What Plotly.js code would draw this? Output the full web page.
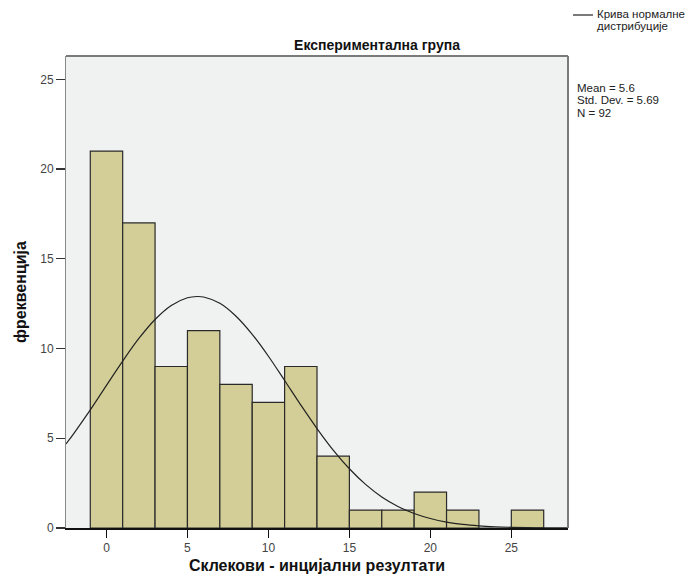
<!DOCTYPE html>
<html>
<head>
<meta charset="utf-8">
<script src="https://cdn.plot.ly/plotly-3.0.1.min.js"></script>
<style>html,body{margin:0;padding:0;background:#fff;}#chart{width:699px;height:585px;}</style>
</head>
<body>
<div id="chart"></div>
<script>
// Histogram bins (bin width 2, centres) and frequencies
const binCenters = [0, 2, 4, 6, 8, 10, 12, 14, 16, 18, 20, 22, 24, 26];
const frequencies = [21, 17, 9, 11, 8, 7, 9, 4, 1, 1, 2, 1, 0, 1];
// Normal curve
const curveX = [-2.5, -2, -1, 0, 1, 2, 3, 4, 5, 5.6, 6, 7, 8, 9, 10, 11, 12, 13, 14, 15, 16, 17, 18, 19, 20, 21, 22, 23, 24, 25, 26, 27, 28, 28.5];
const curveY = [4.68, 5.29, 6.58, 7.95, 9.30, 10.56, 11.62, 12.40, 12.83, 12.9, 12.87, 12.52, 11.80, 10.79, 9.57, 8.22, 6.85, 5.54, 4.34, 3.30, 2.43, 1.73, 1.20, 0.81, 0.53, 0.33, 0.20, 0.12, 0.07, 0.04, 0.02, 0.01, 0.005, 0.004];
const xTicks = [0, 5, 10, 15, 20, 25];
const yTicks = [0, 5, 10, 15, 20, 25];
const chartTitle = "Експериментална група";
const xTitle = "Склекови - инцијални резултати";
const yTitle = "фреквенција";
const legendLabel = ["Крива нормалне", "дистрибуције"];
const statsLines = ["Mean = 5.6", "Std. Dev. = 5.69", "N = 92"];

const W = 699, H = 585;
const M = {l: 66, r: 131, t: 56, b: 57};
const pw = W - M.l - M.r, ph = H - M.t - M.b;
const px = (x) => (x - M.l) / pw;      // pixel -> paper x
const py = (y) => 1 - (y - M.t) / ph;  // pixel -> paper y

const font = "Arial, 'Liberation Sans', sans-serif";
// line spacing = 1.3 * base size (9.6 -> ~12.5px), glyphs drawn at 11.5px
const styled = (lines) => lines.map(s => '<span style="font-size:11.5px">' + s + '</span>').join('<br>');

const traces = [
  {
    type: 'bar', x: binCenters, y: frequencies, width: 2,
    marker: {color: 'rgb(211,206,151)', line: {color: '#2a2a2a', width: 1.2}},
    showlegend: false, hoverinfo: 'x+y'
  },
  {
    type: 'scatter', mode: 'lines', x: curveX, y: curveY,
    line: {color: '#222', width: 1.2, shape: 'spline'},
    showlegend: false
  }
];

const layout = {
  width: W, height: H,
  margin: M,
  paper_bgcolor: '#ffffff',
  plot_bgcolor: 'rgb(240,241,241)',
  bargap: 0,
  font: {family: font, color: '#222'},
  title: {
    text: '<b>' + chartTitle + '</b>',
    font: {family: font, size: 14, color: '#111'},
    xref: 'container', yref: 'container',
    x: 377 / W, y: 1 - 45 / H, xanchor: 'center', yanchor: 'middle'
  },
  xaxis: {
    range: [-2.5, 28.5], tickmode: 'array', tickvals: xTicks, ticktext: xTicks.map(String),
    ticks: 'outside', ticklen: 8, tickcolor: '#111', tickwidth: 1.5,
    showgrid: false, zeroline: false,
    showline: true, linecolor: '#111', linewidth: 1.5,
    tickfont: {family: font, size: 12, color: '#444'},
    title: {text: '<b>' + xTitle + '</b>', font: {family: font, size: 16, color: '#111'}, standoff: 6},
    automargin: false, fixedrange: true
  },
  yaxis: {
    range: [0, 26.3], tickmode: 'array', tickvals: yTicks, ticktext: yTicks.map(String),
    ticks: 'outside', ticklen: 9, tickcolor: '#333', tickwidth: 1.2,
    showgrid: false, zeroline: false,
    showline: true, linecolor: '#888', linewidth: 1,
    tickfont: {family: font, size: 12, color: '#444'},
    title: {text: '<b>' + yTitle + '</b>', font: {family: font, size: 16, color: '#111'}, standoff: 9},
    automargin: false, fixedrange: true
  },
  shapes: [
    // top and right frame
    {type: 'line', xref: 'paper', yref: 'paper', x0: 0, x1: 1, y0: 1, y1: 1, line: {color: '#7a7a7a', width: 2}},
    {type: 'line', xref: 'paper', yref: 'paper', x0: 1, x1: 1, y0: 0, y1: 1, line: {color: '#7a7a7a', width: 2}},
    // legend line sample
    {type: 'line', xref: 'paper', yref: 'paper', x0: px(573), x1: px(593), y0: py(15), y1: py(15), line: {color: '#222', width: 1.2}}
  ],
  annotations: [
    {xref: 'paper', yref: 'paper', x: px(596), y: py(20), xanchor: 'left', yanchor: 'middle', align: 'left',
     text: styled(legendLabel), showarrow: false, borderpad: 0, font: {family: font, size: 9.6, color: '#222'}},
    {xref: 'paper', yref: 'paper', x: px(576), y: py(100.5), xanchor: 'left', yanchor: 'middle', align: 'left',
     text: styled(statsLines), showarrow: false, borderpad: 0, font: {family: font, size: 9.6, color: '#222'}}
  ]
};

Plotly.newPlot('chart', traces, layout, {displayModeBar: false, staticPlot: true});
</script>
</body>
</html>
